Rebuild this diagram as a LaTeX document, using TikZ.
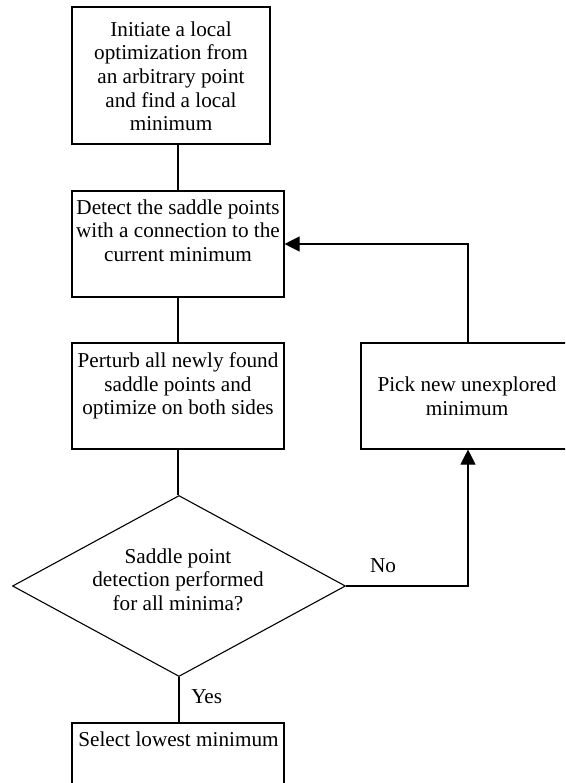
\documentclass[tikz,border=0pt]{standalone}
\usepackage{fontspec}
\setmainfont{Liberation Serif}
\usetikzlibrary{shapes.geometric,arrows.meta}
\begin{document}
\begin{tikzpicture}[x=1pt,y=1pt,
  box/.style={draw, line width=1.1pt, rectangle, inner sep=0pt},
  dia/.style={draw, line width=1.1pt, diamond, inner sep=0pt, minimum width=333pt, minimum height=181pt},
  txt/.style={align=center, inner sep=0pt, font=\fontsize{21.2}{23.7}\selectfont},
  link/.style={line width=1.1pt},
  arr/.style={line width=1.1pt, -{Triangle[length=15pt,width=15pt]}}]
\useasboundingbox (0,0) rectangle (565,-783);
\fill[white] (0,0) rectangle (565,-783);
\clip (0,0) rectangle (565,-783);

% boxes
\node[box, minimum width=198pt, minimum height=137pt] (b1) at (171,-75.5) {};
\node[box, minimum width=212pt, minimum height=106pt] (b2) at (178,-244) {};
\node[box, minimum width=212pt, minimum height=106pt] (b3) at (178,-396) {};
\node[box, minimum width=214pt, minimum height=106pt] (rb) at (468,-396) {};
\node[dia] (d) at (179,-586) {};
\node[box, minimum width=212pt, minimum height=106pt] (b5) at (178,-776) {};

% texts
\node[txt] (t1) at (171,-76.2) {Initiate a local\\optimization from\\an arbitrary point\\and find a local\\minimum};
\node[txt] (t2) at (178,-230.5) {Detect the saddle points\\with a connection to the\\current minimum};
\node[txt] (t3) at (178,-385.8) {Perturb all newly found\\saddle points and\\optimize on both sides};
\node[txt] (tr) at (467,-396.2) {Pick new unexplored\\minimum};
\node[txt] (td) at (178,-579.5) {Saddle point\\detection performed\\for all minima?};
\node[txt] (t5) at (178.5,-739.6) {Select lowest minimum};
\node[txt] (yes) at (206.7,-696.2) {Yes};
\node[txt] (no) at (383,-565.9) {No};

% connectors
\draw[link] (b2.north) -- (b2.north |- b1.south);
\draw[link] (b2.south) -- (b3.north);
\draw[link] (b3.south) -- (b3.south |- d.north);
\draw[link] (d.south) -- (d.south |- b5.north);
\draw[arr] (d.east) -| (rb.south);
\draw[arr] (rb.north) |- (b2.east);
\end{tikzpicture}
\end{document}
